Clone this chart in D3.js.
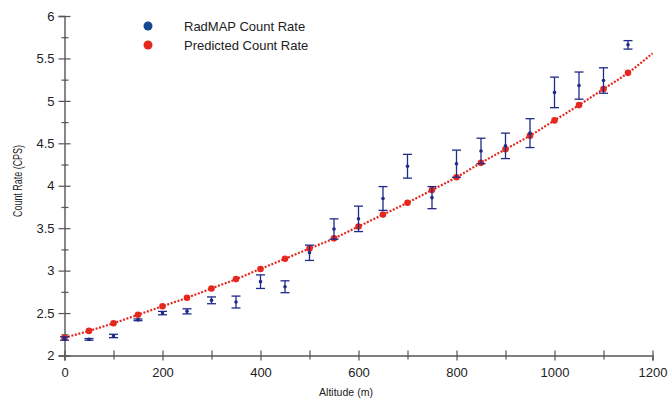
<!DOCTYPE html>
<html>
<head>
<meta charset="utf-8">
<script src="https://cdn.jsdelivr.net/npm/d3@7"></script>
<style>
  body { margin: 0; background: #fff; }
  svg { font-family: "Liberation Sans", Arial, sans-serif; }
</style>
</head>
<body>
<svg id="chart" width="668" height="401"></svg>
<script>
// data
var altitudes = [0, 50, 100, 150, 200, 250, 300, 350, 400, 450, 500, 550,
  600, 650, 700, 750, 800, 850, 900, 950, 1000, 1050, 1100, 1150]
var measured = [2.20, 2.19, 2.23, 2.42, 2.50, 2.52, 2.65, 2.63, 2.87, 2.81, 3.21, 3.49,
  3.61, 3.85, 4.23, 3.86, 4.26, 4.41, 4.47, 4.62, 5.10, 5.18, 5.24, 5.66]
var measuredErr = [0.02, 0.01, 0.02, 0.01, 0.02, 0.03, 0.04, 0.07, 0.08, 0.07, 0.09, 0.12,
  0.15, 0.14, 0.14, 0.13, 0.16, 0.15, 0.15, 0.17, 0.18, 0.16, 0.15, 0.05]
var predicted = [2.21, 2.29, 2.38, 2.48, 2.58, 2.68, 2.79, 2.90, 3.02, 3.14, 3.26, 3.38,
  3.52, 3.66, 3.80, 3.95, 4.10, 4.27, 4.43, 4.59, 4.77, 4.95, 5.14, 5.33]
// fitted curve carries on past the last point
var fitEnd = [1200, 5.56]
var xTicks = [0, 200, 400, 600, 800, 1000, 1200]
var yTicks = [2, 2.5, 3, 3.5, 4, 4.5, 5, 5.5, 6]

var svg = d3.select('#chart')
var axisColor = '#555'
var blue = '#1f2a8a'
var red = '#e5281e'
var fontFam = '"Liberation Sans", Arial, sans-serif'

var x = d3.scaleLinear().domain([0, 1200]).range([64.5, 652.5])
var y = d3.scaleLinear().domain([2, 6]).range([355.5, 16])

// x axis
var gx = svg.append('g')
  .attr('transform', 'translate(0,' + y(2) + ')')
  .call(d3.axisBottom(x).tickValues(d3.range(0, 1201, 100)).tickSize(5)
    .tickFormat(d => xTicks.indexOf(d) >= 0 ? d : ''))
gx.select('.domain').attr('stroke', axisColor).attr('stroke-width', 1.4)
gx.selectAll('.tick line').attr('stroke', axisColor).attr('stroke-width', 1.2)
  .attr('y1', -5).attr('y2', d => xTicks.indexOf(d) >= 0 ? 5 : 4)
gx.selectAll('.tick text').attr('y', 12).attr('font-size', 13).attr('fill', '#222')
  .attr('font-family', fontFam)

// y axis
var gy = svg.append('g')
  .attr('transform', 'translate(' + x(0) + ',0)')
  .call(d3.axisLeft(y).tickValues(d3.range(2, 6.01, 0.25)).tickSize(6)
    .tickFormat(d => yTicks.indexOf(d) >= 0 ? d : ''))
gy.select('.domain').attr('stroke', axisColor).attr('stroke-width', 1.4)
gy.selectAll('.tick line').attr('stroke', axisColor).attr('stroke-width', 1.2)
  .attr('x1', d => yTicks.indexOf(d) >= 0 ? 6 : 4)
  .attr('x2', d => yTicks.indexOf(d) >= 0 ? -6 : -3)
gy.selectAll('.tick text').attr('x', -10).attr('font-size', 13).attr('fill', '#222')
  .attr('font-family', fontFam)

// axis titles (a bit condensed in the original)
svg.append('text')
  .attr('x', 346).attr('y', 396)
  .attr('text-anchor', 'middle').attr('font-size', 11.5).attr('fill', '#222')
  .attr('textLength', 54).attr('lengthAdjust', 'spacingAndGlyphs')
  .text('Altitude (m)')
svg.append('text')
  .attr('transform', 'translate(22,' + 181 + ') rotate(-90)')
  .attr('text-anchor', 'middle').attr('font-size', 12).attr('fill', '#222')
  .attr('textLength', 72).attr('lengthAdjust', 'spacingAndGlyphs')
  .text('Count Rate (CPS)')

// predicted curve (dotted)
var linePts = altitudes.map((a, i) => [a, predicted[i]]).concat([fitEnd])
svg.append('path')
  .datum(linePts)
  .attr('fill', 'none')
  .attr('stroke', red)
  .attr('stroke-width', 2.2)
  .attr('stroke-dasharray', '2,1.6')
  .attr('d', d3.line().x(d => x(d[0])).y(d => y(d[1])).curve(d3.curveMonotoneX))

svg.append('g').selectAll('circle')
  .data(altitudes)
  .enter().append('circle')
  .attr('cx', d => x(d))
  .attr('cy', (d, i) => y(predicted[i]))
  .attr('r', 3.3)
  .attr('fill', red)

// measured points with error bars
var bars = svg.append('g').selectAll('g')
  .data(altitudes)
  .enter().append('g')
  .attr('stroke', blue)
  .attr('stroke-width', 1.3)
bars.append('line')
  .attr('x1', d => x(d)).attr('x2', d => x(d))
  .attr('y1', (d, i) => y(measured[i] - measuredErr[i]))
  .attr('y2', (d, i) => y(measured[i] + measuredErr[i]))
bars.append('line')
  .attr('x1', d => x(d) - 4.5).attr('x2', d => x(d) + 4.5)
  .attr('y1', (d, i) => y(measured[i] - measuredErr[i]))
  .attr('y2', (d, i) => y(measured[i] - measuredErr[i]))
bars.append('line')
  .attr('x1', d => x(d) - 4.5).attr('x2', d => x(d) + 4.5)
  .attr('y1', (d, i) => y(measured[i] + measuredErr[i]))
  .attr('y2', (d, i) => y(measured[i] + measuredErr[i]))
bars.append('circle')
  .attr('cx', d => x(d))
  .attr('cy', (d, i) => y(measured[i]))
  .attr('r', 1.8)
  .attr('fill', blue)
  .attr('stroke', 'none')

// legend
var legend = [
  { label: 'RadMAP Count Rate', color: '#15498f' },
  { label: 'Predicted Count Rate', color: red }
]
var lg = svg.append('g').selectAll('g')
  .data(legend)
  .enter().append('g')
  .attr('transform', (d, i) => 'translate(148,' + (26 + i * 19) + ')')
lg.append('circle').attr('r', 4.5).attr('fill', d => d.color)
lg.append('text')
  .attr('x', 36).attr('y', 4.5)
  .attr('font-size', 13).attr('fill', '#222')
  .text(d => d.label)
</script>
</body>
</html>
